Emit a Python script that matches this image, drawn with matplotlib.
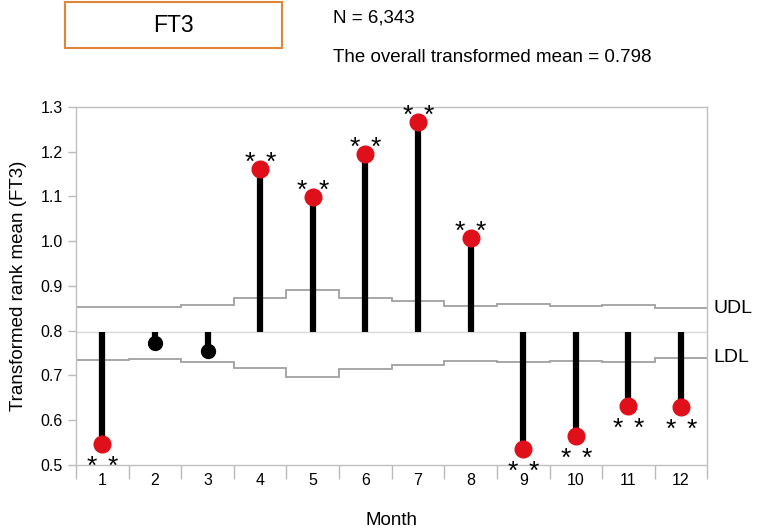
import matplotlib
matplotlib.use("Agg")
import matplotlib.pyplot as plt
from matplotlib.patches import Rectangle
import numpy as np

plt.rcParams['font.family'] = ['Liberation Sans', 'DejaVu Sans']

months = [1, 2, 3, 4, 5, 6, 7, 8, 9, 10, 11, 12]
means = [0.547, 0.772, 0.755, 1.161, 1.099, 1.195, 1.267, 1.008, 0.536, 0.565, 0.631, 0.630]
significant = [True, False, False, True, True, True, True, True, True, True, True, True]
udl = [0.854, 0.853, 0.858, 0.873, 0.892, 0.874, 0.866, 0.856, 0.859, 0.855, 0.857, 0.850]
ldl = [0.735, 0.736, 0.730, 0.716, 0.697, 0.714, 0.724, 0.732, 0.729, 0.733, 0.731, 0.740]
overall_mean = 0.798
n_total = "6,343"

fig = plt.figure(figsize=(7.57, 5.32), dpi=100)
ax = fig.add_axes([0.1004, 0.126, 0.834, 0.673])

edges = np.arange(0.5, 13.0, 1.0)
ax.axhline(overall_mean, color='#d9d9d9', lw=1.0, zorder=1)
ax.stairs(udl, edges, color='#a0a0a0', lw=1.3, zorder=2, baseline=None)
ax.stairs(ldl, edges, color='#a0a0a0', lw=1.3, zorder=2, baseline=None)

for m, v, s in zip(months, means, significant):
    ax.plot([m, m], [overall_mean, v], color='black', lw=4.5, solid_capstyle='butt', zorder=3)
    if s:
        ax.plot(m, v, marker='o', ms=12, color='#e0101b', mec='#e0101b', zorder=4)
        if v > overall_mean:
            off = -1.0
        else:
            off = -30.0
        for dx in (-0.2, 0.2):
            ax.annotate('*', xy=(m + dx, v), xytext=(0, off * 0.72), textcoords='offset points',
                        ha='center', va='baseline', fontsize=19, zorder=5)
    else:
        ax.plot(m, v, marker='o', ms=10, color='black', mec='black', zorder=4)

ax.text(12.62, udl[-1], 'UDL', ha='left', va='center', fontsize=14, clip_on=False)
ax.text(12.62, ldl[-1], 'LDL', ha='left', va='center', fontsize=14, clip_on=False)

ax.set_xlim(0.5, 12.5)
ax.set_ylim(0.5, 1.3)
ax.set_yticks(np.arange(0.5, 1.31, 0.1))
ax.set_yticklabels([f'{t:.1f}' for t in np.arange(0.5, 1.31, 0.1)], fontsize=11.5)
ax.set_xticks(months)
ax.set_xticklabels([str(m) for m in months], fontsize=11.5)
ax.set_xticks(edges, minor=True)
ax.tick_params(axis='x', which='major', length=0, pad=6)
ax.tick_params(axis='x', which='minor', length=10, color='#bbbbbb', width=1)
ax.tick_params(axis='y', length=6, color='#bbbbbb', width=1)
for sp in ax.spines.values():
    sp.set_color('#c0c0c0')
    sp.set_linewidth(1.0)

ax.set_xlabel('Month', fontsize=13.5, labelpad=17)
ax.set_ylabel('Transformed rank mean (FT3)', fontsize=13.5, labelpad=10)

# header
fig.patches.append(Rectangle((65/757, 1 - 48/532), 217/757, 46/532, transform=fig.transFigure,
                             fill=False, edgecolor='#e0863a', lw=1.5))
fig.text(173/757, 1 - 26/532, 'FT3', ha='center', va='center', fontsize=16.5)
fig.text(333/757, 1 - 18/532, f'N = {n_total}', ha='left', va='center', fontsize=13.5)
fig.text(333/757, 1 - 57/532, f'The overall transformed mean = {overall_mean}', ha='left', va='center', fontsize=13.5)

fig.savefig('out.png', dpi=100)
